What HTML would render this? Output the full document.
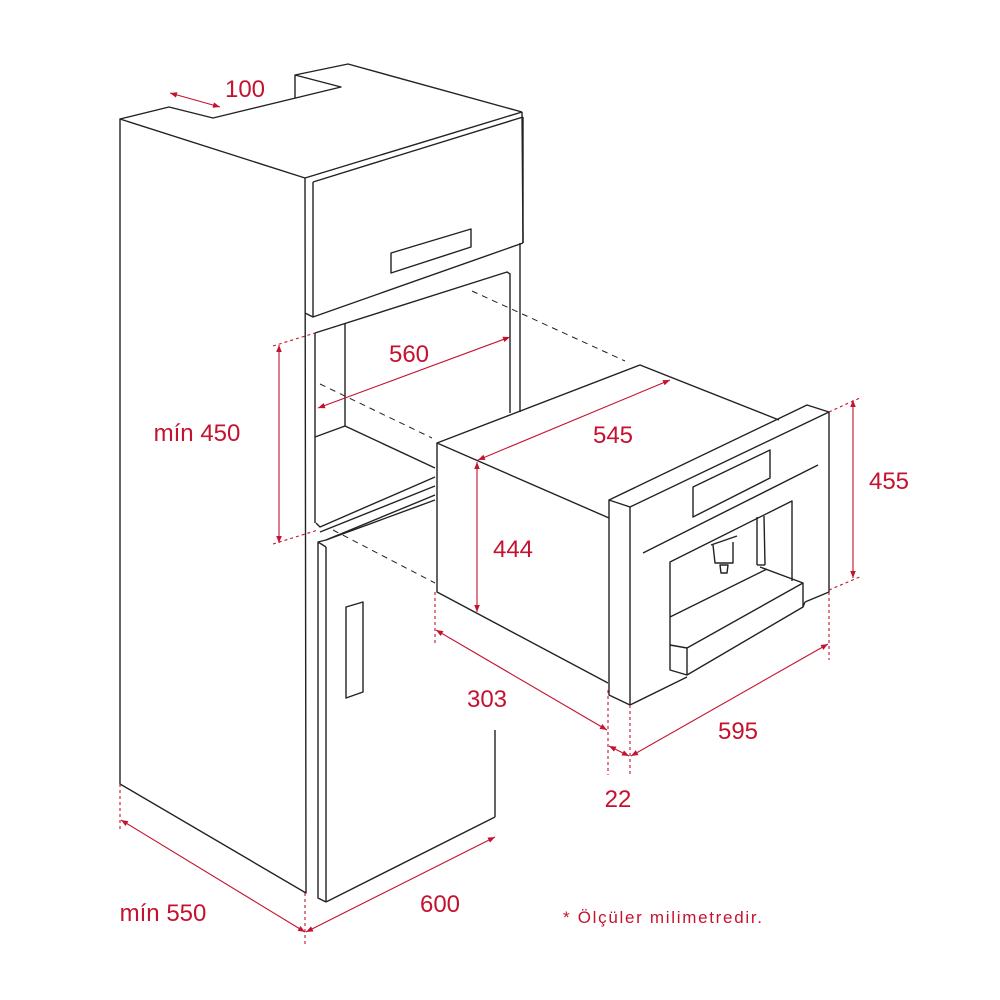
<!DOCTYPE html>
<html><head><meta charset="utf-8"><style>
html,body{margin:0;padding:0;background:#fff;}
svg{display:block;}
text{font-family:"Liberation Sans",sans-serif;fill:#c4122f;}
</style></head><body>
<svg width="1000" height="1000" viewBox="0 0 1000 1000" xmlns="http://www.w3.org/2000/svg">
<defs>
<marker id="a" viewBox="0 0 10 10" refX="10" refY="5" markerWidth="9" markerHeight="7" orient="auto-start-reverse" markerUnits="userSpaceOnUse"><path d="M0,1 L10,5 L0,9 z" fill="#c4122f"/></marker>
</defs>
<g fill="none" stroke="#222" stroke-width="1.4" stroke-linejoin="round">
<polygon points="120,119 305,178 306,893 120,784"/>
<polyline points="120,119 169,107 213,118 341,87 295,75 348,64 522,112"/>
<line x1="295" y1="75" x2="295" y2="98"/>
<line x1="305" y1="178" x2="522" y2="112"/>
<line x1="313" y1="182" x2="523" y2="117"/>
<line x1="522" y1="112" x2="523" y2="243"/>
<line x1="523" y1="117" x2="523" y2="243"/>
<polyline points="313,182 313,317 523,243"/>
<line x1="305" y1="313" x2="313" y2="317"/>
<polygon points="391,253 391,273 471,247 471,229"/>
<line x1="315" y1="333" x2="315" y2="523"/>
<polyline points="315,333 507,272 510,274 510,413"/>
<line x1="520" y1="243" x2="520" y2="412"/>
<polyline points="345,323 345,426 315,437"/>
<line x1="345" y1="426" x2="435" y2="468"/>
<polyline points="316,523 320,527 435,477"/>
<line x1="320" y1="532" x2="435" y2="486"/>
<line x1="326" y1="540" x2="435" y2="495"/>
<polyline points="326,902 318,898 318,542 326,540 435,500"/>
<line x1="326" y1="547" x2="326" y2="902"/>
<line x1="318" y1="542" x2="326" y2="547"/>
<line x1="495" y1="730" x2="495" y2="817"/>
<line x1="326" y1="902" x2="495" y2="817"/>
<polygon points="346,607 363,602 363,692 346,698"/>
<polyline points="609,518 437,443 640,365 779,420"/>
<polyline points="437,443 437,592 608,683"/>
<polygon points="609,500 630,507 829,412 807,405"/>
<polyline points="630,507 630,705 609,695 609,500"/>
<polyline points="829,412 829,592 805,602"/>
<line x1="630" y1="705" x2="687" y2="677"/>
<line x1="803" y1="607" x2="805" y2="602"/>
<polygon points="693,517 693,487 770,450 770,478"/>
<line x1="643" y1="553" x2="818" y2="465"/>
<polyline points="670,645 670,562 792,501 792,581"/>
<line x1="670" y1="617" x2="767" y2="569"/>
<polyline points="760,567 803,583 803,607 687,675"/>
<polygon points="670,645 687,648 687,675 670,670"/>
<line x1="687" y1="648" x2="803" y2="583"/>
<polyline points="713,545 715,563 733,563 733,542"/>
<line x1="711" y1="545" x2="737" y2="536"/>
<polygon points="720,565 728,565 727,573 721,573"/>
<line x1="757" y1="517" x2="757" y2="565"/>
<line x1="764" y1="516" x2="765" y2="565"/>
<line x1="757" y1="565" x2="765" y2="565"/>
</g>
<g stroke="#222" stroke-width="1" stroke-dasharray="6,5" fill="none">
<line x1="472" y1="291" x2="625" y2="361"/>
<line x1="320" y1="384" x2="432" y2="438"/>
<line x1="333" y1="530" x2="435" y2="583"/>
</g>
<g stroke="#c4122f" stroke-width="1.1" fill="none">
<g stroke-dasharray="3,3">
<line x1="120" y1="784" x2="120" y2="832"/>
<line x1="305" y1="893" x2="305" y2="945"/>
<line x1="273" y1="346" x2="315" y2="333"/>
<line x1="273" y1="544" x2="318" y2="530"/>
<line x1="435" y1="592" x2="435" y2="645"/>
<line x1="608" y1="690" x2="608" y2="775"/>
<line x1="630" y1="705" x2="630" y2="775"/>
<line x1="829" y1="592" x2="829" y2="660"/>
<line x1="829" y1="412" x2="862" y2="397"/>
<line x1="829" y1="590" x2="862" y2="576"/>
</g>
<line x1="170" y1="93" x2="220" y2="107" marker-start="url(#a)" marker-end="url(#a)"/>
<line x1="279" y1="345" x2="279" y2="543" marker-start="url(#a)" marker-end="url(#a)"/>
<line x1="318" y1="408" x2="510" y2="337" marker-start="url(#a)" marker-end="url(#a)"/>
<line x1="478" y1="460" x2="670" y2="380" marker-start="url(#a)" marker-end="url(#a)"/>
<line x1="477" y1="462" x2="477" y2="612" marker-start="url(#a)" marker-end="url(#a)"/>
<line x1="853" y1="400" x2="853" y2="578" marker-start="url(#a)" marker-end="url(#a)"/>
<line x1="436" y1="630" x2="607" y2="730" marker-start="url(#a)" marker-end="url(#a)"/>
<line x1="631" y1="756" x2="828" y2="644" marker-start="url(#a)" marker-end="url(#a)"/>
<line x1="609" y1="746" x2="629" y2="756" marker-start="url(#a)" marker-end="url(#a)"/>
<line x1="121" y1="820" x2="305" y2="932" marker-start="url(#a)" marker-end="url(#a)"/>
<line x1="306" y1="932" x2="495" y2="837" marker-start="url(#a)" marker-end="url(#a)"/>
</g>
<g font-size="24" text-anchor="middle">
<text x="245" y="97">100</text>
<text x="409" y="362">560</text>
<text x="197" y="441">mín 450</text>
<text x="613" y="443">545</text>
<text x="513" y="557">444</text>
<text x="889" y="489">455</text>
<text x="487" y="707">303</text>
<text x="738" y="739">595</text>
<text x="618" y="807">22</text>
<text x="163" y="921">mín 550</text>
<text x="440" y="912">600</text>
</g>
<text x="563" y="923" font-size="17" textLength="199" lengthAdjust="spacing">* Ölçüler milimetredir.</text>
</svg>
</body></html>
